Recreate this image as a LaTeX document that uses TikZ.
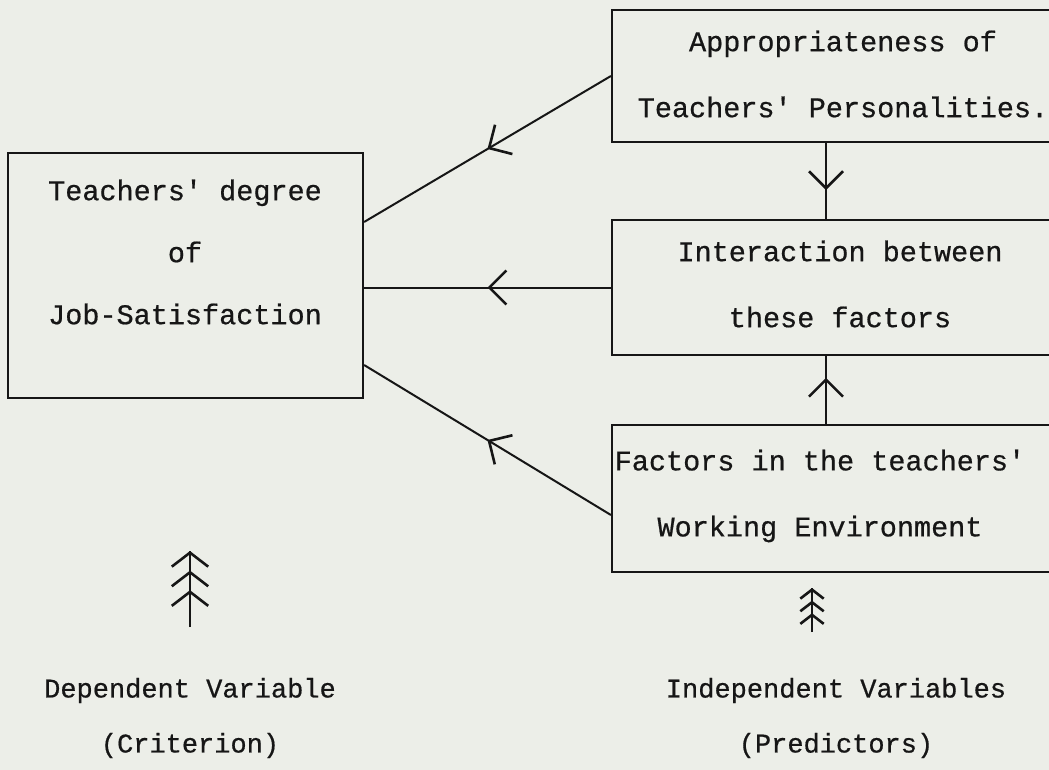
\documentclass[tikz,border=0pt]{standalone}
\usepackage{fontspec}
\setmonofont{Liberation Mono}[FakeBold=0.6]
\usetikzlibrary{arrows.meta,decorations.markings}
\definecolor{paper}{RGB}{236,238,232}
\definecolor{ink}{RGB}{22,22,22}

\begin{document}
\begin{tikzpicture}[x=1pt,y=-1pt,draw=ink,line width=2pt,
  box/.style={draw,line width=2.2pt,inner sep=0pt,minimum width=470pt},
  box text/.style={font=\ttfamily\fontsize{28.5}{66}\selectfont,
    text=ink,align=center,inner sep=0pt},
  note text/.style={font=\ttfamily\fontsize{27}{55}\selectfont,
    text=ink,align=center,inner sep=0pt},
  barb/.style={line width=2pt,decoration={markings,mark=at position #1 with
    {\arrow[line width=2.6pt]{Straight Barb[length=17pt,width=34pt]}}},postaction={decorate}},
  tree/.style={line width=2.2pt,decoration={markings,
    mark=at position -2.8*#1 with {\arrow[line width=2.6pt]{Straight Barb[length=#1,width=2.6*#1]}},
    mark=at position -1.4*#1 with {\arrow[line width=2.6pt]{Straight Barb[length=#1,width=2.6*#1]}},
    mark=at position 1 with {\arrow[line width=2.6pt]{Straight Barb[length=#1,width=2.6*#1]}}},
    postaction={decorate}}]

  \fill[paper] (0,0) rectangle (1049,770);
  \useasboundingbox (0,0) rectangle (1049,770);

  % boxes
  \node[box,minimum height=132pt] (approp) at (847,76) {};
  \node[box,minimum height=135pt] (inter) at (847,287.5) {};
  \node[box,minimum height=147pt] (envir) at (847,498.5) {};
  \node[box,minimum width=355pt,minimum height=245pt] (job) at (185.5,275.5) {};

  % box texts
  \node[box text] (approptxt) at (843,74) {Appropriateness of\\Teachers' Personalities.};
  \node[box text] (intertxt) at (840,284) {Interaction between\\these factors};
  \node[box text] (envirtxt) at (820,496) {Factors in the teachers'\\Working Environment};
  \node[box text,font=\ttfamily\fontsize{28.5}{62}\selectfont] (jobtxt) at (185,252)
    {Teachers' degree\\of\\Job-Satisfaction};

  % notes below
  \node[note text] (deptxt) at (190,718) {Dependent Variable\\(Criterion)};
  \node[note text] (indeptxt) at (836,718) {Independent Variables\\(Predictors)};

  \coordinate (depfoot) at (190,627);
  \coordinate (deptop) at (190,551);
  \coordinate (indfoot) at (812,632);
  \coordinate (indtop) at (812,588);

  \path
    (approp.west) edge[barb=0.5] ([yshift=53.5pt]job.east)
    (inter.west) edge[barb=0.5] (inter.west -| job.east)
    ([yshift=-16.5pt]envir.west) edge[barb=0.5] ([yshift=-89.5pt]job.east)
    ([xshift=-21pt]approp.south) edge[barb=0.62] ([xshift=-21pt]inter.north)
    ([xshift=-21pt]envir.north) edge[barb=0.68] ([xshift=-21pt]inter.south)
    (depfoot) edge[tree=14pt] (deptop)
    (indfoot) edge[tree=9pt] (indtop);
\end{tikzpicture}
\end{document}
